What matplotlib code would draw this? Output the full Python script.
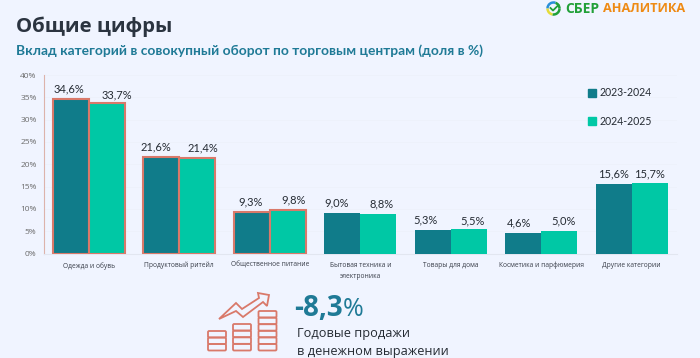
import matplotlib
matplotlib.use('Agg')
import matplotlib.pyplot as plt
from matplotlib.patches import Polygon, FancyBboxPatch, Arc, Patch
import numpy as np

categories = ['Одежда и обувь', 'Продуктовый ритейл', 'Общественное питание',
              'Бытовая техника и\nэлектроника', 'Товары для дома',
              'Косметика и парфюмерия', 'Другие категории']
share_2324 = [34.6, 21.6, 9.3, 9.0, 5.3, 4.6, 15.6]
share_2425 = [33.7, 21.4, 9.8, 8.8, 5.5, 5.0, 15.7]
labels_2324 = ['34,6%', '21,6%', '9,3%', '9,0%', '5,3%', '4,6%', '15,6%']
labels_2425 = ['33,7%', '21,4%', '9,8%', '8,8%', '5,5%', '5,0%', '15,7%']
yticks = [0, 5, 10, 15, 20, 25, 30, 35, 40]

# label nudges in pixels, the labels were moved by hand in the original
shift_2324 = [(-2, 10), (-5, 10), (-1, 10), (-6, 10), (-7, 10), (-4, 10), (0, 10)]
shift_2425 = [(10, 8), (6, 10), (6, 10), (3, 10), (4, 8), (4, 10), (0, 10)]

bg = '#F0F4FF'
teal = '#107C8A'
mint = '#00C8A5'
red = '#D9796A'
blue = '#1F7A96'
dark = '#2B3440'

plt.rcParams['font.family'] = ['Open Sans', 'DejaVu Sans']
narrow = ['Lato', 'DejaVu Sans']

fig = plt.figure(figsize=(7, 3.58), dpi=100, facecolor=bg)
ax = fig.add_axes([43.5/700, (358-253.5)/358, 633.5/700, 178.5/358], facecolor=bg)

x = np.arange(len(categories))
w = 0.4
b1 = ax.bar(x-w/2, share_2324, w, color=teal, zorder=3)
b2 = ax.bar(x+w/2, share_2425, w, color=mint, zorder=3)

# first three categories are outlined
for bars in (b1, b2):
    for r in bars[:3]:
        r.set_edgecolor(red)
        r.set_linewidth(1.5)

for i in range(len(categories)):
    ax.annotate(labels_2324[i], (x[i]-w/2, share_2324[i]), xytext=shift_2324[i],
                textcoords='offset pixels', ha='center', va='center', fontsize=8,
                color='#252B33', family=narrow)
    ax.annotate(labels_2425[i], (x[i]+w/2, share_2425[i]), xytext=shift_2425[i],
                textcoords='offset pixels', ha='center', va='center', fontsize=8,
                color='#252B33', family=narrow)

ax.set_xlim(-0.5, 6.5)
ax.set_ylim(0, 40)
ax.set_yticks(yticks)
ax.set_yticklabels([str(t)+'%' for t in yticks], fontsize=6, color='#6B6B6B')
ax.set_xticks(x)
ax.set_xticklabels(categories, fontsize=4.8, color='#3A3F4A', linespacing=1.75)
ax.tick_params(length=0, pad=5)
ax.tick_params(axis='x', pad=6)
ax.grid(axis='y', color='#EDF1FB', lw=0.6, zorder=0)
for s in ['top', 'right']:
    ax.spines[s].set_visible(False)
ax.spines['left'].set_color('#DDB3AB')
ax.spines['bottom'].set_color('#E2E6F0')

handles = [Patch(color=teal, label='2023-2024'), Patch(color=mint, label='2024-2025')]
fig.legend(handles=handles, loc='upper left', bbox_to_anchor=(588/700, 1-87.5/358),
           frameon=False, handlelength=0.78, handleheight=0.78,
           handletextpad=0.3, labelspacing=1.67, labelcolor='#252B33', prop={'family': narrow, 'size': 7.6},
           borderpad=0, borderaxespad=0)

# overlay in pixel coordinates for the headings and the pictures
ov = fig.add_axes([0, 0, 1, 1])
ov.set_xlim(0, 700)
ov.set_ylim(358, 0)
ov.axis('off')
ov.patch.set_alpha(0)

ov.text(16, 27, 'Общие цифры', fontsize=14.7, fontweight='bold', color=dark, va='center')
ov.text(16, 51, 'Вклад категорий в совокупный оборот по торговым центрам (доля в %)',
        fontsize=9.9, fontweight='bold', color=blue, va='center', family=narrow)
ov.text(294, 309, '-8,3', fontsize=20, fontweight='bold', color=blue, va='center')
ov.text(343, 309, '%', fontsize=18, color=blue, va='center')
ov.text(297, 334, 'Годовые продажи', fontsize=9.2, color='#252B33', va='center')
ov.text(297, 352, 'в денежном выражении', fontsize=9.2, color='#252B33', va='center')

# logo
ring = (553.5, 8.5)
ov.add_patch(Arc(ring, 12, 12, theta1=180, theta2=290, color='#2A8FD8', lw=1.8))
ov.add_patch(Arc(ring, 12, 12, theta1=290, theta2=360, color='#21A038', lw=1.8))
ov.add_patch(Arc(ring, 12, 12, theta1=0, theta2=100, color='#21A038', lw=1.8))
ov.add_patch(Arc(ring, 12, 12, theta1=100, theta2=180, color='#E5DC3A', lw=1.8))
ov.plot([550.5, 553, 558.5], [8, 10.5, 5], color='#21A038', lw=1.3)
ov.text(565, 9, 'СБЕР', fontsize=10, fontweight='bold', color='#21A038', va='center')
ov.text(603, 9, 'АНАЛИТИКА', fontsize=9.2, fontweight='bold', color='#EE8A14', va='center')

# coin stacks icon
for left, top, rows in [(208, 331, 3), (233, 324, 4), (258.5, 311, 6)]:
    h = (350.5-top)/rows
    for k in range(rows):
        ov.add_patch(FancyBboxPatch((left, top+k*h), 18, h, boxstyle='round,pad=0,rounding_size=1.2',
                                    fc='none', ec=red, lw=1.3))
arrow = [(219, 319), (236, 303), (242, 309), (259, 298), (258, 293), (269, 295),
         (267, 306), (263, 302), (243, 317), (236, 311)]
ov.add_patch(Polygon(arrow, closed=True, fc='none', ec=red, lw=1.3))

fig.savefig('out.png', dpi=100, facecolor=bg)
